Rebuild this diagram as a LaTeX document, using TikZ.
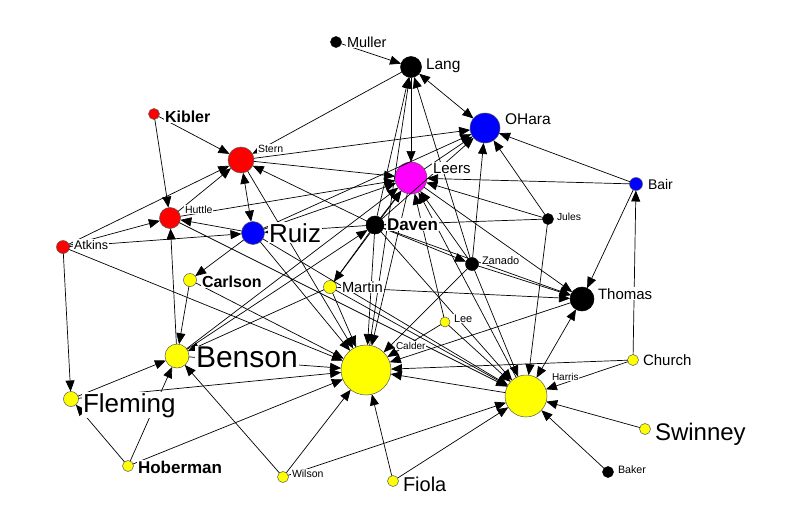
\documentclass[tikz,border=0pt]{standalone}
\usepackage{fontspec}
\setmainfont{Liberation Sans}
\usetikzlibrary{arrows.meta}
\newcommand\myfs[1]{\fontsize{#1}{#1}\selectfont}
\definecolor{cred}{RGB}{255,0,0}
\definecolor{cblue}{RGB}{0,0,255}
\definecolor{cmag}{RGB}{255,0,255}
\definecolor{cyel}{RGB}{255,255,0}
\begin{document}
\begin{tikzpicture}[x=1pt,y=-1pt,
  nd/.style={circle,inner sep=0pt,outer sep=0pt,draw=black!65,line width=0.5pt},
  e/.style={line width=0.7pt,-{Triangle[length=11pt,width=9pt]}},
  ee/.style={line width=0.7pt,{Triangle[length=11pt,width=9pt]}-{Triangle[length=11pt,width=9pt]}},
  lb/.style={anchor=base west,inner sep=0.8pt,fill=white}]
\useasboundingbox (0,0) rectangle (795,514);
\fill[white] (0,0) rectangle (795,514);
% nodes
\node[nd,fill=black,draw=black,minimum size=11pt] (Muller) at (336,42) {};
\node[nd,fill=black,draw=black,minimum size=21pt] (Lang) at (411,67) {};
\node[nd,fill=cblue,minimum size=30pt] (OHara) at (485,128) {};
\node[nd,fill=cred,minimum size=11pt] (Kibler) at (154,114) {};
\node[nd,fill=cred,minimum size=26pt] (Stern) at (241,160) {};
\node[nd,fill=cmag,minimum size=32pt] (Leers) at (411,178) {};
\node[nd,fill=cblue,minimum size=13pt] (Bair) at (636,184) {};
\node[nd,fill=cred,minimum size=21pt] (Huttle) at (170,218) {};
\node[nd,fill=cblue,minimum size=23pt] (Ruiz) at (253,233) {};
\node[nd,fill=black,draw=black,minimum size=18pt] (Daven) at (375,225) {};
\node[nd,fill=black,draw=black,minimum size=11pt] (Jules) at (548,219) {};
\node[nd,fill=cred,minimum size=13pt] (Atkins) at (63,247) {};
\node[nd,fill=black,draw=black,minimum size=13pt] (Zanado) at (472,264) {};
\node[nd,fill=cyel,minimum size=13pt] (Carlson) at (190,280) {};
\node[nd,fill=cyel,minimum size=13pt] (Martin) at (330,287) {};
\node[nd,fill=black,draw=black,minimum size=24pt] (Thomas) at (582,299) {};
\node[nd,fill=cyel,minimum size=10pt] (Lee) at (445,322) {};
\node[nd,fill=cyel,minimum size=50pt] (Calder) at (366,370) {};
\node[nd,fill=cyel,minimum size=24pt] (Benson) at (177,356) {};
\node[nd,fill=cyel,minimum size=11pt] (Church) at (633,360) {};
\node[nd,fill=cyel,minimum size=42pt] (Harris) at (526,396) {};
\node[nd,fill=cyel,minimum size=15pt] (Fleming) at (71,399) {};
\node[nd,fill=cyel,minimum size=11pt] (Swinney) at (645,429) {};
\node[nd,fill=cyel,minimum size=11pt] (Hoberman) at (128,466) {};
\node[nd,fill=cyel,minimum size=11pt] (Wilson) at (283,477) {};
\node[nd,fill=black,draw=black,minimum size=11pt] (Baker) at (608,472) {};
\node[nd,fill=cyel,minimum size=11pt] (Fiola) at (393,481) {};
% edges
\draw[e] (Muller) -- (Lang);
\draw[ee] (Lang) -- (OHara);
\draw[e] (Lang) -- (Leers);
\draw[e] (Lang) -- (Stern);
\draw[e] (Daven) -- (Lang);
\draw[e] (Zanado) -- (Lang);
\draw[e] (Calder) -- (Lang);
\draw[e] (Kibler) -- (Stern);
\draw[e] (Kibler) -- (Huttle);
\draw[e] (Atkins) -- (Stern);
\draw[e] (Huttle) -- (Stern);
\draw[ee] (Stern) -- (Ruiz);
\draw[e] (Daven) -- (Stern);
\draw[e] (Stern) -- (OHara);
\draw[e] (Stern) -- (Leers);
\draw[e] (Stern) -- (Calder);
\draw[e] (Atkins) -- (Huttle);
\draw[e] (Ruiz) -- (Huttle);
\draw[e] (Benson) -- (Huttle);
\draw[e] (Huttle) -- (Leers);
\draw[e] (Huttle) -- (Harris);
\draw[e] (Atkins) -- (Ruiz);
\draw[e] (Atkins) -- (Fleming);
\draw[e] (Atkins) -- (Calder);
\draw[e] (Daven) -- (Ruiz);
\draw[e] (Ruiz) -- (Carlson);
\draw[e] (Ruiz) -- (Calder);
\draw[e] (Ruiz) -- (Harris);
\draw[e] (Ruiz) -- (Leers);
\draw[e] (Ruiz) -- (OHara);
\draw[e] (Leers) -- (OHara);
\draw[e] (Bair) -- (OHara);
\draw[e] (Bair) -- (Leers);
\draw[e] (Bair) -- (Thomas);
\draw[e] (Church) -- (Bair);
\draw[e] (Jules) -- (Leers);
\draw[e] (Jules) -- (OHara);
\draw[e] (Jules) -- (Harris);
\draw[e] (Jules) -- (Daven);
\draw[e] (Leers) -- (Thomas);
\draw[e] (Zanado) -- (OHara);
\draw[e] (Zanado) -- (Leers);
\draw[e] (Daven) -- (Zanado);
\draw[e] (Zanado) -- (Thomas);
\draw[e] (Zanado) -- (Harris);
\draw[e] (Zanado) -- (Calder);
\draw[ee] (Thomas) -- (Harris);
\draw[e] (Thomas) -- (Calder);
\draw[e] (Martin) -- (Thomas);
\draw[e] (Daven) -- (Thomas);
\draw[e] (Daven) -- (Martin);
\draw[e] (Lee) -- (Leers);
\draw[e] (Lee) -- (Calder);
\draw[e] (Lee) -- (Harris);
\draw[e] (Church) -- (Calder);
\draw[e] (Church) -- (Harris);
\draw[e] (Swinney) -- (Harris);
\draw[e] (Baker) -- (Harris);
\draw[e] (Fiola) -- (Calder);
\draw[e] (Fiola) -- (Harris);
\draw[e] (Wilson) -- (Benson);
\draw[e] (Wilson) -- (Calder);
\draw[e] (Wilson) -- (Harris);
\draw[e] (Hoberman) -- (Fleming);
\draw[e] (Hoberman) -- (Benson);
\draw[e] (Hoberman) -- (Calder);
\draw[e] (Fleming) -- (Benson);
\draw[e] (Fleming) -- (Calder);
\draw[e] (Benson) -- (Calder);
\draw[e] (Carlson) -- (Benson);
\draw[e] (Carlson) -- (Calder);
\draw[e] (Benson) -- (Daven);
\draw[e] (Benson) -- (Leers);
\draw[e] (Martin) -- (Benson);
\draw[e] (Daven) -- (Calder);
\draw[e] (Leers) -- (Calder);
\draw[e] (Daven) -- (Leers);
\draw[e] (Martin) -- (Calder);
\draw[e] (Martin) -- (Harris);
\draw[e] (Martin) -- (Leers);
\draw[e] (Harris) -- (Calder);
\draw[e] (Harris) -- (Leers);
\draw[e] (Daven) -- (OHara);
\draw[e] (Daven) -- (Harris);
% labels
\node[lb,font=\myfs{14.5}] (tMuller) at (346,47) {Muller};
\node[lb,font=\myfs{15.5}] (tLang) at (425,69) {Lang};
\node[lb,font=\myfs{15.5}] (tOHara) at (504,124) {OHara};
\node[lb,font=\bfseries\myfs{16}] (tKibler) at (164,122) {Kibler};
\node[lb,font=\myfs{10.5}] (tStern) at (257,152) {Stern};
\node[lb,font=\myfs{15}] (tLeers) at (432,173) {Leers};
\node[lb,font=\myfs{14}] (tBair) at (647,189) {Bair};
\node[lb,font=\myfs{10.5}] (tHuttle) at (184,213) {Huttle};
\node[lb,font=\myfs{26}] (tRuiz) at (268,242) {Ruiz};
\node[lb,font=\bfseries\myfs{17}] (tDaven) at (386,230) {Daven};
\node[lb,font=\myfs{10.3}] (tJules) at (556,220) {Jules};
\node[lb,font=\myfs{12.5}] (tAtkins) at (73,249) {Atkins};
\node[lb,font=\myfs{11}] (tZanado) at (481,264) {Zanado};
\node[lb,font=\bfseries\myfs{16}] (tCarlson) at (201,287) {Carlson};
\node[lb,font=\myfs{14.7}] (tMartin) at (341,292) {Martin};
\node[lb,font=\myfs{15}] (tThomas) at (597,299) {Thomas};
\node[lb,font=\myfs{11}] (tLee) at (453,322) {Lee};
\node[lb,font=\myfs{10}] (tCalder) at (395,349) {Calder};
\node[lb,font=\myfs{30}] (tBenson) at (195,367) {Benson};
\node[lb,font=\myfs{15}] (tChurch) at (642,365) {Church};
\node[lb,font=\myfs{10}] (tHarris) at (551,380) {Harris};
\node[lb,font=\myfs{26}] (tFleming) at (82,412) {Fleming};
\node[lb,font=\myfs{24}] (tSwinney) at (654,440) {Swinney};
\node[lb,font=\bfseries\myfs{17}] (tHoberman) at (137,473) {Hoberman};
\node[lb,font=\myfs{10.5}] (tWilson) at (291,477) {Wilson};
\node[lb,font=\myfs{10.7}] (tBaker) at (617,473) {Baker};
\node[lb,font=\myfs{20}] (tFiola) at (402,491) {Fiola};
\end{tikzpicture}
\end{document}
